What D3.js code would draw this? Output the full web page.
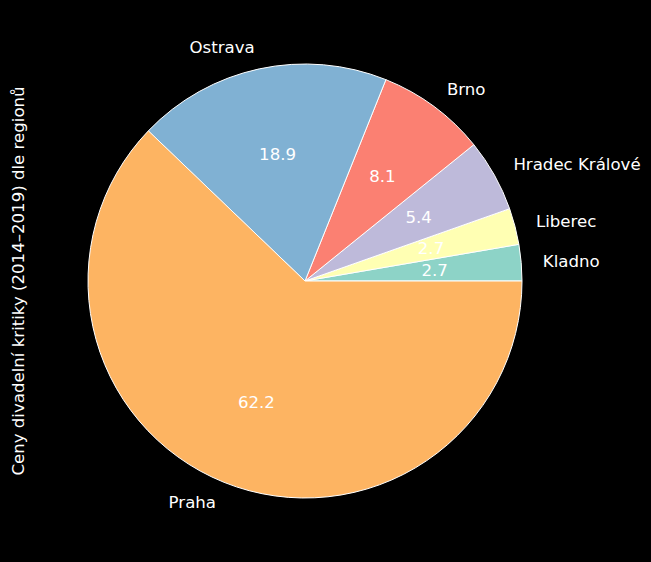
<!DOCTYPE html>
<html>
<head>
    <script src="https://cdnjs.cloudflare.com/ajax/libs/d3/7.8.5/d3.min.js"></script>
    <style>
        body { margin: 0; background: #000; }
        svg { display: block; }
        text { font-family: "DejaVu Sans", sans-serif; font-size: 16.6px; fill: #fff; }
    </style>
</head>
<body>
    <div id="chart"></div>
    <script>
        const regions = ["Kladno", "Liberec", "Hradec Králové", "Brno", "Ostrava", "Praha"];
        const counts = [1, 1, 2, 3, 7, 23];
        const colors = ["#8dd3c7", "#ffffb3", "#bebada", "#fb8072", "#80b1d3", "#fdb462"];
        const yLabel = "Ceny divadelní kritiky (2014–2019) dle regionů";

        const W = 651, H = 562;
        const cx = 305, cy = 281, r = 217;

        const svg = d3.select("#chart").append("svg")
            .attr("width", W).attr("height", H);

        svg.append("rect").attr("width", W).attr("height", H).attr("fill", "#000");

        const total = d3.sum(counts);
        const data = regions.map((name, i) => ({ name, value: counts[i], color: colors[i] }));

        // counter-clockwise from 3 o'clock, like matplotlib
        const pie = d3.pie().value(d => d.value).sort(null)
            .startAngle(Math.PI / 2).endAngle(Math.PI / 2 - 2 * Math.PI);
        const arcs = pie(data);
        const arc = d3.arc().innerRadius(0).outerRadius(r);

        const g = svg.append("g").attr("transform", `translate(${cx},${cy})`);

        g.selectAll("path")
            .data(arcs)
            .join("path")
            .attr("d", arc)
            .attr("fill", d => d.data.color)
            .attr("stroke", "#fff")
            .attr("stroke-width", 1)
            .attr("stroke-linejoin", "round");

        const mid = d => (d.startAngle + d.endAngle) / 2;
        const px = (a, k) => k * r * Math.sin(a);
        const py = (a, k) => -k * r * Math.cos(a);

        // category labels
        g.selectAll("text.lbl")
            .data(arcs)
            .join("text")
            .attr("class", "lbl")
            .attr("x", d => px(mid(d), 1.1))
            .attr("y", d => py(mid(d), 1.1))
            .attr("dy", "0.35em")
            .attr("text-anchor", d => px(mid(d), 1) >= 0 ? "start" : "end")
            .text(d => d.data.name);

        // percentages
        g.selectAll("text.pct")
            .data(arcs)
            .join("text")
            .attr("class", "pct")
            .attr("x", d => px(mid(d), 0.6))
            .attr("y", d => py(mid(d), 0.6))
            .attr("dy", "0.35em")
            .attr("text-anchor", "middle")
            .text(d => (d.value / total * 100).toFixed(1));

        svg.append("text")
            .attr("transform", `translate(24,${cy}) rotate(-90)`)
            .attr("text-anchor", "middle")
            .text(yLabel);
    </script>
</body>
</html>
